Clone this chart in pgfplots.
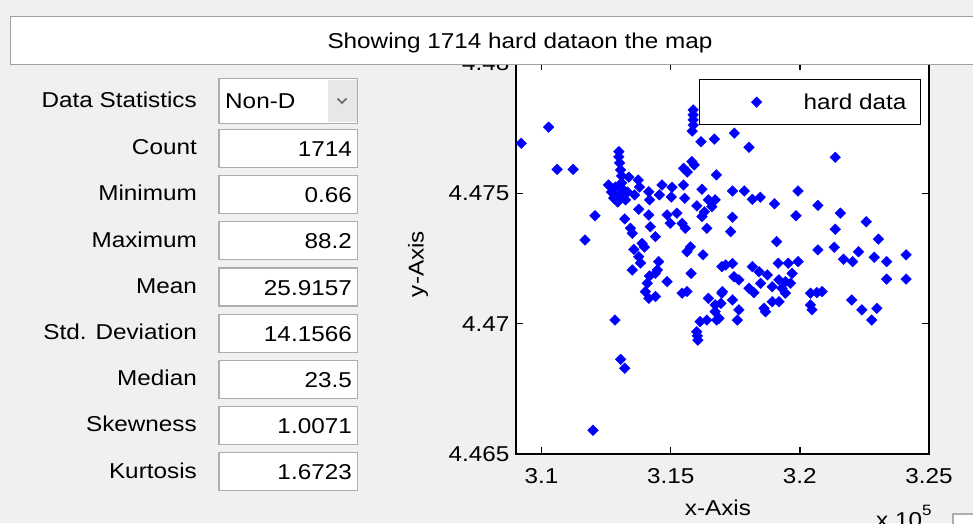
\documentclass[border=0pt]{standalone}
\usepackage{fontspec}
\setmainfont{Liberation Sans}[FakeStretch=1.13]
\usepackage{pgfplots}
\pgfplotsset{compat=1.18}

\definecolor{guibg}{RGB}{240,240,240}
\definecolor{editborder}{RGB}{171,173,179}
\definecolor{framegray}{RGB}{160,160,160}
\definecolor{popbtn}{RGB}{231,231,231}
\definecolor{markblue}{RGB}{0,0,255}
\newcommand{\guifont}{\fontsize{21.5}{25}\selectfont}

% legend sample: a single marker centred in a wide slot
\pgfplotsset{diamondlegend/.style={legend image code/.code={%
  \path[draw=none] (0pt,0pt) (104pt,0pt);
  \draw[##1, only marks, mark repeat=2, mark phase=2]
    plot coordinates {(0pt,0pt) (57pt,0pt) (104pt,0pt)};}}}

% well locations (x in 1e5, y in 1e6 map units)
\pgfplotstableread{
x y
3.0921 4.47692
3.1027 4.47754
3.1060 4.47592
3.1122 4.47592
3.1207 4.47414
3.1168 4.47321
3.1284 4.47014
3.1306 4.46863
3.1322 4.46829
3.1199 4.46591
3.1299 4.47660
3.1299 4.47640
3.1302 4.47617
3.1306 4.47590
3.1310 4.47567
3.1259 4.47532
3.1271 4.47505
3.1286 4.47524
3.1302 4.47494
3.1317 4.47513
3.1279 4.47482
3.1325 4.47475
3.1310 4.47540
3.1333 4.47505
3.1295 4.47467
3.1338 4.47562
3.1374 4.47551
3.1379 4.47524
3.1360 4.47494
3.1415 4.47506
3.1418 4.47475
3.1456 4.47494
3.1466 4.47532
3.1505 4.47523
3.1502 4.47486
3.1549 4.47532
3.1554 4.47481
3.1582 4.47622
3.1550 4.47596
3.1564 4.47582
3.1591 4.47609
3.1621 4.47516
3.1677 4.47571
3.1669 4.47708
3.1617 4.47698
3.1587 4.47820
3.1587 4.47801
3.1587 4.47782
3.1587 4.47762
3.1583 4.47739
3.1376 4.47439
3.1322 4.47402
3.1415 4.47417
3.1421 4.47372
3.1344 4.47366
3.1351 4.47347
3.1441 4.47334
3.1389 4.47308
3.1398 4.47294
3.1357 4.47285
3.1376 4.47257
3.1383 4.47233
3.1351 4.47206
3.1453 4.47238
3.1441 4.47193
3.1418 4.47183
3.1409 4.47155
3.1486 4.47161
3.1402 4.47123
3.1415 4.47097
3.1441 4.47104
3.1448 4.47206
3.1486 4.47417
3.1524 4.47424
3.1498 4.47385
3.1544 4.47385
3.1556 4.47366
3.1601 4.47452
3.1621 4.47411
3.1640 4.47366
3.1646 4.47475
3.1659 4.47449
3.1672 4.47475
3.1630 4.47429
3.1576 4.47295
3.1563 4.47276
3.1625 4.47264
3.1579 4.47193
3.1698 4.47219
3.1563 4.47123
3.1544 4.47117
3.1646 4.47097
3.1672 4.47072
3.1672 4.47046
3.1678 4.47014
3.1640 4.47014
3.1614 4.47008
3.1601 4.46969
3.1605 4.46937
3.1603 4.46953
3.1698 4.47117
3.1687 4.47021
3.1694 4.47078
3.1746 4.47731
3.1803 4.47677
3.2137 4.47638
3.1739 4.47509
3.1785 4.47509
3.1816 4.47477
3.1847 4.47485
3.1902 4.47460
3.1993 4.47509
3.1985 4.47414
3.2070 4.47454
3.2157 4.47424
3.2137 4.47362
3.2257 4.47391
3.2304 4.47324
3.1739 4.47408
3.1732 4.47353
3.1910 4.47315
3.2070 4.47283
3.2133 4.47293
3.2169 4.47247
3.2204 4.47238
3.2227 4.47276
3.2288 4.47255
3.2336 4.47238
3.2411 4.47264
3.2336 4.47171
3.2411 4.47171
3.1713 4.47225
3.1739 4.47231
3.1816 4.47219
3.1842 4.47199
3.1874 4.47187
3.1916 4.47232
3.1955 4.47232
3.1993 4.47238
3.1970 4.47193
3.1745 4.47180
3.1764 4.47168
3.1848 4.47155
3.1803 4.47136
3.1822 4.47119
3.1893 4.47142
3.1919 4.47168
3.1944 4.47161
3.1964 4.47155
3.1931 4.47136
3.1944 4.47117
3.1893 4.47084
3.1919 4.47084
3.1861 4.47059
3.1867 4.47046
3.1700 4.47123
3.1739 4.47091
3.1764 4.47053
3.1758 4.47014
3.2041 4.47117
3.2066 4.47119
3.2086 4.47123
3.2041 4.47072
3.2047 4.47053
3.2201 4.47091
3.2240 4.47053
3.2298 4.47059
3.2278 4.47014
}\harddata

\begin{document}
\begin{tikzpicture}
\useasboundingbox (0pt,0pt) rectangle (973pt,-523pt);
\clip (0pt,0pt) rectangle (973pt,-523pt);
\fill[guibg] (0pt,0pt) rectangle (973pt,-523pt);

\begin{axis}[
  at={(516pt,-454pt)}, anchor=south west,
  scale only axis, width=413pt, height=391pt,
  xmin=3.0901, xmax=3.25, ymin=4.465, ymax=4.48,
  xtick={3.1,3.15,3.2,3.25}, xticklabels={3.1,3.15,3.2,3.25},
  ytick={4.465,4.47,4.475,4.48}, yticklabels={4.465,4.47,4.475,4.48},
  axis background/.style={fill=white},
  axis line style={black, line width=1.3pt},
  tick align=inside, major tick length=7pt,
  every tick/.style={black, line width=1.3pt},
  tick label style={font=\guifont, text=black},
  xticklabel style={anchor=base, yshift=-29pt},
  yticklabel style={anchor=east, xshift=-3pt},
  xlabel={x-Axis}, ylabel={y-Axis},
  label style={font=\guifont, text=black},
  xlabel style={at={(axis description cs:0.489,-0.138)}, anchor=center},
  ylabel style={at={(axis description cs:-0.237,0.486)}, anchor=center},
  legend style={at={(axis description cs:0.4431,0.9591)}, anchor=north west,
    draw=black, line width=1.3pt, fill=white, font=\guifont,
    inner xsep=0pt, inner ysep=14pt, nodes={inner sep=0pt, text=black}},
  legend cell align=left,
]
\addplot[only marks, mark=square*, mark size=3.8pt,
  mark options={rotate=45, fill=markblue, draw=markblue, line width=0.3pt},
  diamondlegend]
  table[x=x, y=y] {\harddata};
\addlegendentry{hard data\hspace*{14pt}}
\end{axis}

% title bar
\draw[framegray, line width=1.3pt, fill=white] (10.5pt,-16.7pt) rectangle (990pt,-64.5pt);
\node[font=\guifont, text=black, inner sep=0pt, anchor=base] at (520pt,-48pt)
  {Showing 1714 hard dataon the map};

% statistics selector
\draw[editborder, line width=1.3pt, fill=white] (219pt,-78.5pt) rectangle (357.5pt,-123.3pt);
\fill[popbtn] (328pt,-79.5pt) rectangle (356.8pt,-122.3pt);
\draw[gray!80!black, line width=1.6pt] (337.5pt,-98.5pt) -- (342pt,-103pt) -- (346.5pt,-98.5pt);
\node[font=\guifont, text=black, inner sep=0pt, anchor=base west] at (225pt,-108.5pt) {Non-D};
\node[font=\guifont, text=black, inner sep=0pt, anchor=base east] at (197pt,-107.5pt) {Data Statistics};

% statistic rows
\foreach \lab/\val [count=\k from 0] in {Count/1714, Minimum/0.66, Maximum/88.2,
    Mean/25.9157, Std. Deviation/14.1566, Median/23.5, Skewness/1.0071, Kurtosis/1.6723} {
  \pgfmathsetmacro{\top}{129.4+46.2*\k}
  \pgfmathsetmacro{\bot}{\top+38}
  \pgfmathsetmacro{\lbase}{154.6+46.2*\k}
  \pgfmathsetmacro{\vbase}{156.5+46.2*\k}
  \draw[editborder, line width=1.3pt, fill=white] (219pt,-\top pt) rectangle (357.5pt,-\bot pt);
  \node[font=\guifont, text=black, inner sep=0pt, anchor=base east] at (197pt,-\lbase pt) {\lab};
  \node[font=\guifont, text=black, inner sep=0pt, anchor=base east] at (352pt,-\vbase pt) {\val};
}

% axis scale factor and corner control
\node[font=\guifont, text=black, inner sep=0pt, anchor=base west] at (876pt,-527pt)
  {x 10\raisebox{12pt}{\fontsize{15}{15}\selectfont 5}};
\draw[editborder, line width=1.3pt, fill=white] (953pt,-514pt) rectangle (985pt,-530pt);
\end{tikzpicture}
\end{document}
